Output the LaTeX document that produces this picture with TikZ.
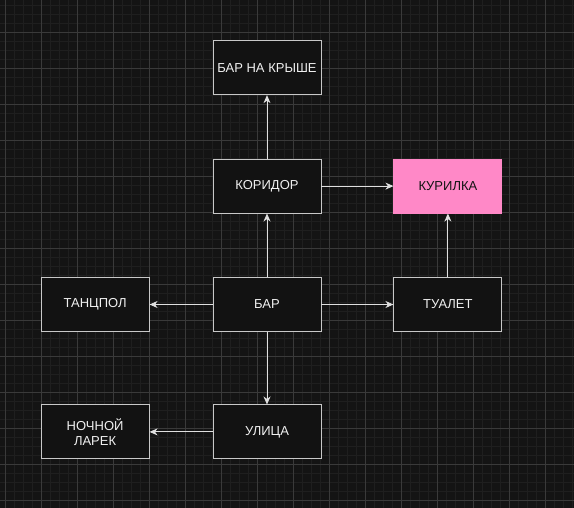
\documentclass[tikz,border=0pt]{standalone}
\usepackage{fontspec}
\setmainfont{Liberation Sans}
\usetikzlibrary{arrows.meta,positioning}
\definecolor{bgdark}{HTML}{141414}
\definecolor{gridminor}{HTML}{1F1F1F}
\definecolor{gridmajor}{HTML}{3A3A3A}
\definecolor{boxfill}{HTML}{121212}
\definecolor{boxline}{HTML}{C8C8C8}
\definecolor{smokepink}{HTML}{FF88C7}
\begin{document}
\begin{tikzpicture}[x=1pt, y=-1pt]
\tikzset{node distance=63.5pt and 63pt,
    room/.style={rectangle, draw=boxline, line width=0.9pt, fill=boxfill,
      text=white!94!black, minimum width=108pt, minimum height=54pt,
      align=center, font=\fontsize{13}{15}\selectfont, inner sep=0pt},
    smoke/.style={room, fill=smokepink, draw=smokepink, text=black!92},
    link/.style={draw=white!88!black, line width=0.9pt,
      -{Stealth[length=8pt, width=7pt, inset=2.5pt]}}
}
  % background and grid
  \fill[bgdark] (0,0) rectangle (574,508);
  \useasboundingbox (0,0) rectangle (574,508);
  \foreach \x in {-4,5,...,574} \draw[gridminor, line width=0.8pt] (\x,0) -- (\x,508);
  \foreach \y in {-4,5,...,508} \draw[gridminor, line width=0.8pt] (0,\y) -- (574,\y);
  \foreach \x in {5,41,...,574} \draw[gridmajor, line width=0.9pt] (\x,0) -- (\x,508);
  \foreach \y in {32,68,...,508} \draw[gridmajor, line width=0.9pt] (0,\y) -- (574,\y);

  \node[room] (bar) at (267,304.5) {БАР};
  \node[room, above=of bar] (corridor) {КОРИДОР};
  \node[room, above=of corridor] (roofbar) {БАР НА КРЫШЕ};
  \node[smoke, right=of corridor, xshift=9pt] (smoking) {КУРИЛКА};
  \node[room, left=of bar] (dancefloor) {ТАНЦПОЛ};
  \node[room, right=of bar, xshift=9pt] (toilet) {ТУАЛЕТ};
  \node[room, below=of bar, yshift=-9pt] (street) {УЛИЦА};
  \node[room, left=of street] (kiosk) {НОЧНОЙ\\ЛАРЕК};

  \draw[link] (corridor) -- (roofbar);
  \draw[link] (corridor) -- (smoking);
  \draw[link] (bar) -- (corridor);
  \draw[link] (bar) -- (dancefloor);
  \draw[link] (bar) -- (toilet);
  \draw[link] (bar) -- (street);
  \draw[link] (toilet) -- (smoking);
  \draw[link] (street) -- (kiosk);
\end{tikzpicture}
\end{document}
